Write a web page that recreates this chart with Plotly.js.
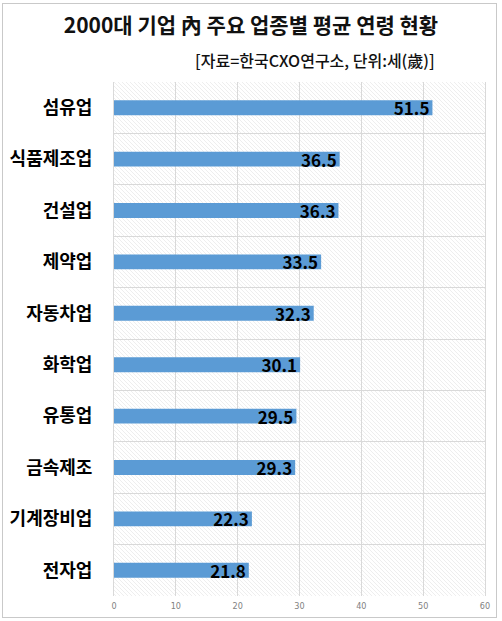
<!DOCTYPE html>
<html>
<head>
<meta charset="utf-8">
<script src="https://cdn.plot.ly/plotly-3.0.1.min.js"></script>
<style>
  body { margin: 0; background: #fff; }
  #chart { width: 502px; height: 621px; }
  #frame {
    position: absolute; left: 2px; top: 3px; width: 493px; height: 613px;
    border: 1px solid #c9c9c9; pointer-events: none;
  }
</style>
</head>
<body>
<div id="chart"></div>
<div id="frame"></div>
<script>
/* -------------------- Data -------------------- */

const industries = ["섬유업", "식품제조업", "건설업", "제약업", "자동차업", "화학업", "유통업", "금속제조", "기계장비업", "전자업"];
const avgAge = [51.5, 36.5, 36.3, 33.5, 32.3, 30.1, 29.5, 29.3, 22.3, 21.8];
const xTicks = [0, 10, 20, 30, 40, 50, 60];

const KR = '"Noto Sans CJK KR", "Malgun Gothic", sans-serif';

/* -------------------- Helpers -------------------- */

// light diagonal hatch behind the plot area
function hatchSvg(w, h) {
  const svg =
    `<svg xmlns="http://www.w3.org/2000/svg" width="${w}" height="${h}" viewBox="0 0 ${w} ${h}">` +
    `<defs><pattern id="p" width="4" height="4" patternUnits="userSpaceOnUse">` +
    `<path d="M-1,-1 L5,5 M-1,3 L1,5 M3,-1 L5,1" stroke="#e2e2e2" stroke-width="0.6"/>` +
    `</pattern></defs><rect width="${w}" height="${h}" fill="#fff"/>` +
    `<rect width="${w}" height="${h}" fill="url(#p)"/></svg>`;
  return "data:image/svg+xml;charset=utf-8," + encodeURIComponent(svg);
}

/* -------------------- Chart -------------------- */

const trace = {
  type: "bar",
  orientation: "h",
  y: industries,
  x: avgAge,
  width: 0.29,
  marker: { color: "#5b9bd5" },
  text: avgAge.map((v) => v.toFixed(1)),
  textposition: "inside",
  insidetextanchor: "end",
  textangle: 0,
  constraintext: "none",
  textfont: { family: KR, size: 17, color: "#000", weight: "bold" },
  hoverinfo: "none",
  cliponaxis: false,
};

const layout = {
  width: 502,
  height: 621,
  margin: { l: 114, r: 17, t: 82, b: 25 },
  paper_bgcolor: "#fff",
  plot_bgcolor: "rgba(0,0,0,0)",
  showlegend: false,
  title: {
    text: "2000대 기업 內 주요 업종별 평균 연령 현황",
    x: 0.5,
    xanchor: "center",
    y: 0.958,
    yanchor: "middle",
    font: { family: KR, size: 21, color: "#111", weight: "bold" },
  },
  xaxis: {
    range: [0, 60],
    tickvals: xTicks,
    ticktext: xTicks.map(String),
    showgrid: true,
    gridcolor: "#d9d9d9",
    gridwidth: 1,
    zeroline: false,
    showline: false,
    ticks: "",
    ticklabelstandoff: 3,
    tickfont: { family: "DejaVu Sans Condensed, sans-serif", size: 9, color: "#7f7f7f" },
    fixedrange: true,
  },
  yaxis: {
    type: "category",
    autorange: "reversed",
    tickson: "boundaries",
    showgrid: true,
    gridcolor: "#d9d9d9",
    gridwidth: 1,
    zeroline: false,
    showline: true,
    linecolor: "#d9d9d9",
    mirror: true,
    ticks: "",
    ticklabelstandoff: 17,
    tickfont: { family: KR, size: 18, color: "#000", weight: "bold" },
    fixedrange: true,
  },
  images: [{
    source: hatchSvg(371, 514),
    xref: "paper", yref: "paper",
    x: 0, y: 1, sizex: 1, sizey: 1,
    xanchor: "left", yanchor: "top",
    sizing: "stretch",
    layer: "below",
  }],
  annotations: [{
    text: "[자료=한국CXO연구소, 단위:세(歲)]",
    xref: "paper", yref: "paper",
    x: 0.871, y: 1.043,
    xanchor: "right", yanchor: "middle",
    showarrow: false,
    font: { family: KR, size: 16, color: "#111", weight: 500 },
  }],
};

Plotly.newPlot("chart", [trace], layout, { displayModeBar: false, staticPlot: true });
</script>
</body>
</html>
